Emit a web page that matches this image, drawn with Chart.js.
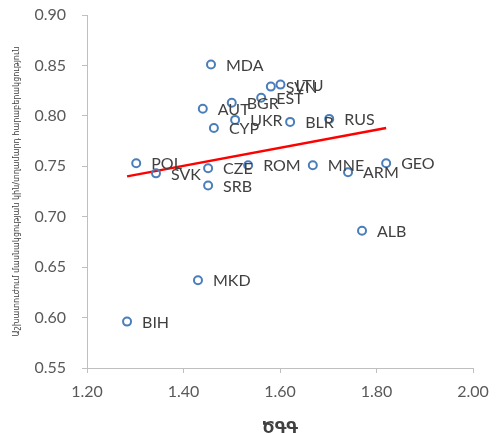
<!DOCTYPE html>
<html>
<head>
<meta charset="utf-8">
<script src="https://cdn.jsdelivr.net/npm/chart.js@4"></script>
<style>
  body{margin:0;background:#fff}
  #wrap{width:504px;height:433px;position:relative}
</style>
</head>
<body>
<div id="wrap"><canvas id="chartCanvas"></canvas></div>
<script>
// countries, x = ԾԳԳ, y = female/male ratio
let countries=["MDA","SVN","LTU","EST","AUT","BGR","UKR","CYP","BLR","RUS","POL","SVK","CZE","SRB","ROM","MNE","ARM","GEO","ALB","MKD","BIH"]
let xValues=[1.457,1.581,1.601,1.561,1.440,1.500,1.507,1.463,1.621,1.702,1.302,1.343,1.451,1.451,1.534,1.668,1.741,1.820,1.770,1.430,1.283]
let yValues=[0.851,0.829,0.831,0.818,0.807,0.813,0.796,0.788,0.794,0.797,0.753,0.743,0.748,0.731,0.751,0.751,0.744,0.753,0.686,0.637,0.596]

// linear trend end points
let trendX=[1.283,1.820]
let trendY=[0.740,0.788]

let xTicks=[1.20,1.40,1.60,1.80,2.00]
let yTicks=[0.55,0.60,0.65,0.70,0.75,0.80,0.85,0.90]

let xTitle="ԾԳԳ"
let yTitle="Աշխատուժում մասնակցության կին/տղամարդ հարաբերակցություն"

let points=countries.map((c,i)=>({x:xValues[i],y:yValues[i]}))
let trend=trendX.map((x,i)=>({x:x,y:trendY[i]}))

let pointLabels={
    id:"pointLabels",
    afterDatasetsDraw(chart){
        let ctx=chart.ctx
        let meta=chart.getDatasetMeta(0)
        ctx.save()
        ctx.font="16px Lato"
        ctx.fillStyle="#404040"
        ctx.textAlign="left"
        ctx.textBaseline="middle"
        meta.data.forEach((el,i)=>{
            ctx.fillText(countries[i],el.x+15,el.y+1)
        })
        ctx.restore()
    }
}

let tickFont={family:"Lato",size:16}
let chartCanvas=document.querySelector("#chartCanvas")
let chart=new Chart(chartCanvas,{
    type:"scatter",
    data:{
        datasets:[
            {label:"countries",data:points,pointRadius:4,pointHoverRadius:4,borderWidth:2,
             borderColor:"#4a7ebb",backgroundColor:"rgba(255,255,255,0)",order:1},
            {type:"line",label:"trend",data:trend,borderColor:"#ff0000",borderWidth:2.5,
             pointRadius:0,fill:false,order:2}
        ]
    },
    options:{
        responsive:true,
        maintainAspectRatio:false,
        animation:false,
        layout:{padding:{left:0,right:31,top:15,bottom:0}},
        plugins:{legend:{display:false},tooltip:{enabled:false}},
        scales:{
            x:{
                type:"linear",min:1.2,max:2.0,
                afterBuildTicks(scale){scale.ticks=xTicks.map(v=>({value:v}))},
                afterFit(scale){scale.height=65},
                ticks:{font:tickFont,color:"#595959",padding:9,callback:v=>v.toFixed(2)},
                grid:{drawOnChartArea:false,tickLength:5,color:"#bfbfbf"},
                border:{color:"#bfbfbf"},
                title:{display:true,text:xTitle,font:{family:"DejaVu Sans",size:16,weight:"bold"},color:"#404040",padding:{top:0,bottom:-5}}
            },
            y:{
                type:"linear",min:0.55,max:0.9,
                afterBuildTicks(scale){scale.ticks=yTicks.map(v=>({value:v}))},
                afterFit(scale){scale.width=87;scale.paddingTop=0;scale.paddingBottom=0},
                ticks:{font:tickFont,color:"#595959",padding:16,callback:v=>v.toFixed(2)},
                grid:{drawOnChartArea:false,tickLength:5,color:"#bfbfbf"},
                border:{color:"#bfbfbf"},
                title:{display:true,text:yTitle,font:{family:"DejaVu Sans",size:8},color:"#404040",padding:{top:12,bottom:0}}
            }
        }
    },
    plugins:[pointLabels]
})
</script>
</body>
</html>
